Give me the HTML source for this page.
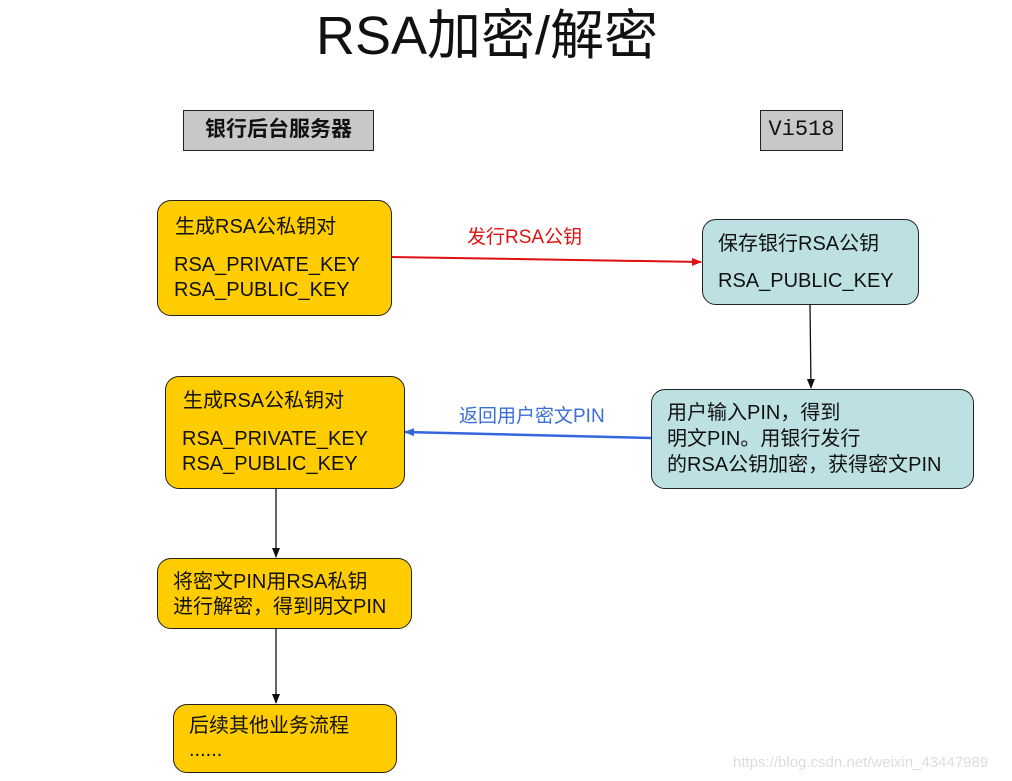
<!DOCTYPE html>
<html><head><meta charset="utf-8"><style>
body{margin:0;width:1012px;height:781px;background:#fff;position:relative;overflow:hidden;font-family:"Liberation Sans","Noto Sans CJK SC",sans-serif;color:#111}
.a{position:absolute}
.box{position:absolute;border:1.5px solid #222;border-radius:14px;box-sizing:border-box}
.y{background:#ffcc00}
.c{background:#bde0e2}
.t{position:absolute;font-size:20px;line-height:24px;white-space:nowrap}
.h{position:absolute;background:#c8c8c8;border:1.5px solid #222;box-sizing:border-box;font-weight:bold;font-size:21px;line-height:38px;text-align:center;font-family:"Liberation Serif","Noto Serif CJK SC",serif}
</style></head><body>
<div class="a" style="left:316px;top:2px;font-size:54px;line-height:68px;white-space:nowrap">RSA加密/解密</div>
<div class="h" style="left:183px;top:110px;width:191px;height:41px;font-family:'Liberation Sans','Noto Sans CJK SC',sans-serif">银行后台服务器</div>
<div class="h" style="left:760px;top:110px;width:83px;height:41px;font-weight:normal;font-family:'Liberation Mono','DejaVu Sans Mono',monospace;font-size:22px">Vi518</div>

<svg class="a" style="left:0;top:0" width="1012" height="781">
<defs>
<marker id="r" markerWidth="10" markerHeight="8" refX="9" refY="4" orient="auto" markerUnits="userSpaceOnUse"><path d="M0,0L10,4L0,8z" fill="#e01010"/></marker>
<marker id="b" markerWidth="10" markerHeight="8" refX="9" refY="4" orient="auto" markerUnits="userSpaceOnUse"><path d="M0,0L10,4L0,8z" fill="#3366dd"/></marker>
<marker id="k" markerWidth="10" markerHeight="8" refX="9" refY="4" orient="auto" markerUnits="userSpaceOnUse"><path d="M0,0L10,4L0,8z" fill="#111"/></marker>
</defs>
<line x1="391" y1="257" x2="701" y2="262" stroke="#e01010" stroke-width="2" marker-end="url(#r)"/>
<line x1="651" y1="438" x2="405" y2="432" stroke="#3366dd" stroke-width="2.5" marker-end="url(#b)"/>
<line x1="810" y1="304" x2="811" y2="388" stroke="#111" stroke-width="1.3" marker-end="url(#k)"/>
<line x1="276" y1="488" x2="276" y2="557" stroke="#111" stroke-width="1.3" marker-end="url(#k)"/>
<line x1="276" y1="628" x2="276" y2="703" stroke="#111" stroke-width="1.3" marker-end="url(#k)"/>
</svg>

<div class="t" style="left:467px;top:226px;color:#e01010;font-size:19px">发行RSA公钥</div>
<div class="t" style="left:459px;top:405px;color:#3a6fd8;font-size:19px">返回用户密文PIN</div>

<div class="box y" style="left:157px;top:200px;width:235px;height:116px"></div>
<div class="t" style="left:175px;top:215px">生成RSA公私钥对</div>
<div class="t" style="left:174px;top:253px">RSA_PRIVATE_KEY</div>
<div class="t" style="left:174px;top:278px">RSA_PUBLIC_KEY</div>

<div class="box c" style="left:702px;top:219px;width:217px;height:86px"></div>
<div class="t" style="left:718px;top:232px">保存银行RSA公钥</div>
<div class="t" style="left:718px;top:269px">RSA_PUBLIC_KEY</div>

<div class="box y" style="left:165px;top:376px;width:240px;height:113px"></div>
<div class="t" style="left:183px;top:389px">生成RSA公私钥对</div>
<div class="t" style="left:182px;top:427px">RSA_PRIVATE_KEY</div>
<div class="t" style="left:182px;top:452px">RSA_PUBLIC_KEY</div>

<div class="box c" style="left:651px;top:389px;width:323px;height:100px"></div>
<div class="t" style="left:667px;top:401px">用户输入PIN，得到</div>
<div class="t" style="left:667px;top:427px">明文PIN。用银行发行</div>
<div class="t" style="left:667px;top:453px">的RSA公钥加密，获得密文PIN</div>

<div class="box y" style="left:157px;top:558px;width:255px;height:71px"></div>
<div class="t" style="left:173px;top:570px">将密文PIN用RSA私钥</div>
<div class="t" style="left:173px;top:595px">进行解密，得到明文PIN</div>

<div class="box y" style="left:173px;top:704px;width:224px;height:69px"></div>
<div class="t" style="left:189px;top:714px">后续其他业务流程</div>
<div class="t" style="left:189px;top:738px">......</div>

<div class="t" style="left:733px;top:751px;color:#ddd;font-size:15px">https://blog.csdn.net/weixin_43447989</div>
</body></html>
